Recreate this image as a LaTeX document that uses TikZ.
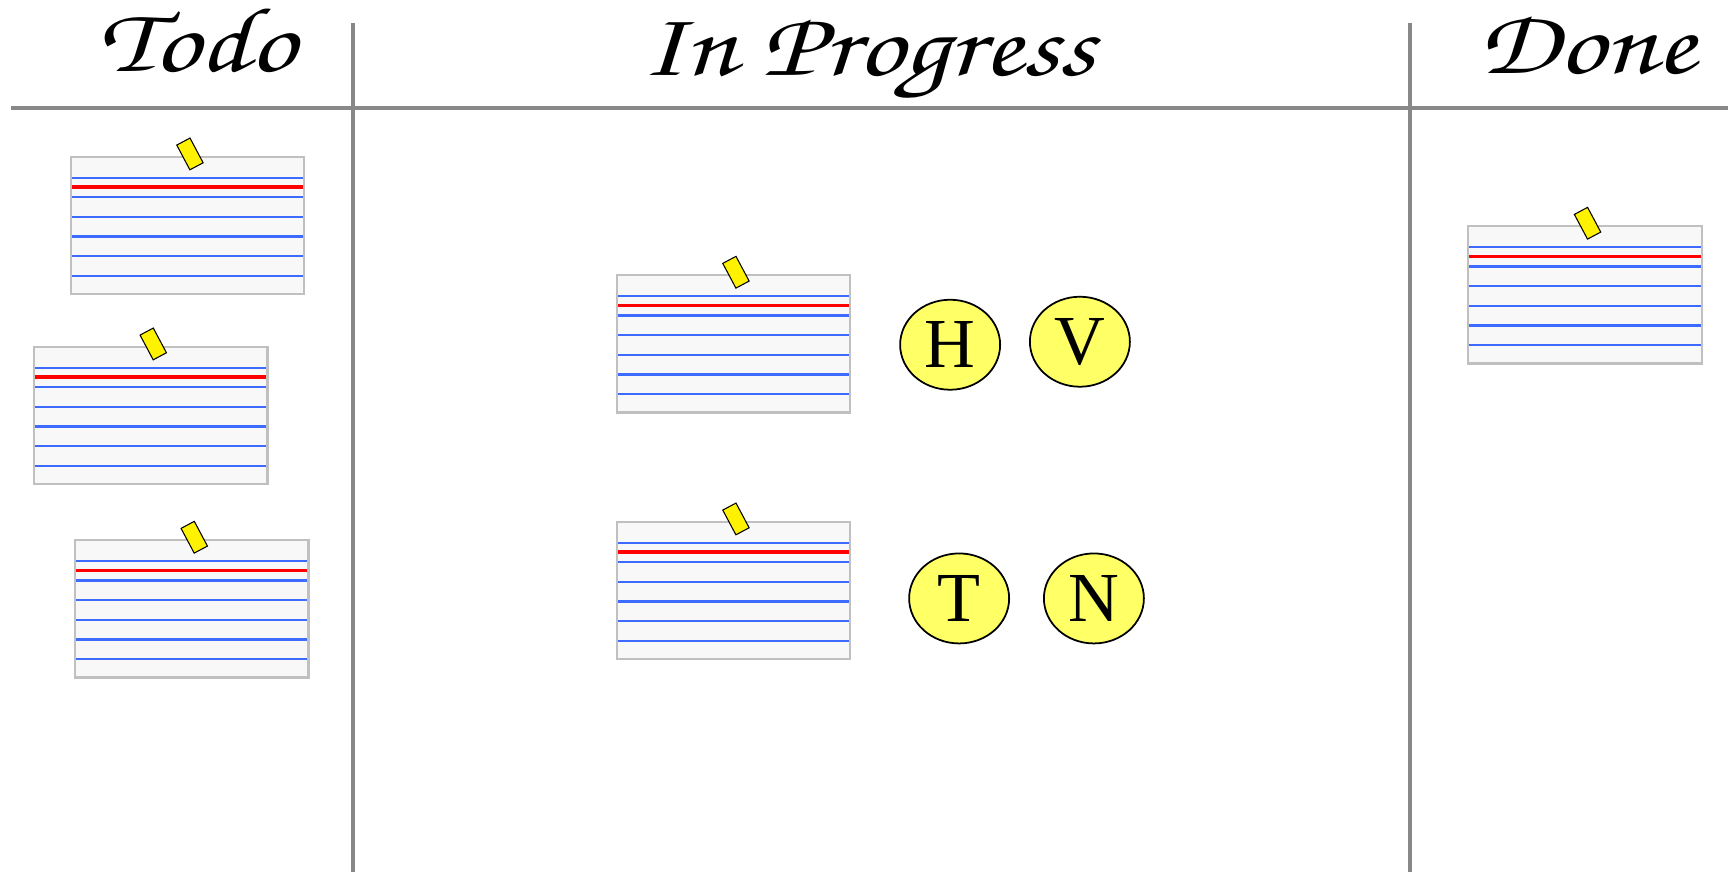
\documentclass[tikz,border=0pt]{standalone}
\usepackage[T1]{fontenc}
\usepackage{fontspec}
\usepackage{graphicx}
\setmainfont{Liberation Serif}
\usetikzlibrary{shapes.geometric, positioning}

\definecolor{cardfill}{HTML}{F8F8F8}
\definecolor{cardedge}{HTML}{C0C0C0}
\definecolor{ruleblue}{HTML}{3D6BFF}
\definecolor{pinyellow}{HTML}{FFFF66}
\definecolor{boardgray}{HTML}{888888}

% column titles, a little wider than the font draws them
\newcommand\colhead[1]{\scalebox{1.3}[1.05]{#1}}

\begin{document}
\begin{tikzpicture}[
    header/.style={anchor=base, font=\fontencoding{T1}\fontfamily{pzc}\fontseries{mb}\fontshape{it}\fontsize{25}{30}\selectfont},
    divider/.style={draw=boardgray, line width=1.1pt},
    card/.style={rectangle, draw=cardedge, line width=0.6pt, fill=cardfill, minimum width=2.335cm, minimum height=1.375cm, inner sep=0pt,
        path picture={
            \foreach \k in {0,...,5}
                \draw[ruleblue, line width=0.65pt] ([yshift={-2.1mm-\k*1.96mm}]path picture bounding box.north west) -- ([yshift={-2.1mm-\k*1.96mm}]path picture bounding box.north east);
            \draw[red, line width=0.9pt] ([yshift=-3.03mm]path picture bounding box.north west) -- ([yshift=-3.03mm]path picture bounding box.north east);
        }},
    tape/.style={rectangle, draw=black, line width=0.3pt, fill=yellow, minimum width=0.15cm, minimum height=0.28cm, inner sep=0pt, rotate=28},
    person/.style={ellipse, draw=black, line width=0.5pt, fill=pinyellow, minimum width=1cm, minimum height=0.9cm, inner sep=0pt, font=\fontsize{20}{20}\selectfont}
]
\useasboundingbox (0,0) rectangle (17.31,8.72);

% board
\coordinate (hleft) at (0.11,7.64);
\coordinate (hright) at (17.28,7.64);
\coordinate (v1top) at (3.53,8.49);
\coordinate (v1bot) at (3.53,0);
\coordinate (v2top) at (14.10,8.49);
\coordinate (v2bot) at (14.10,0);
\draw [divider] (hleft) -- (hright);
\draw [divider] (v1top) -- (v1bot);
\draw [divider] (v2top) -- (v2bot);

\node (todo) [header] at (1.97,8.00) {\colhead{Todo}};
\node (prog) [header] at (8.68,7.96) {\colhead{In Progress}};
\node (done) [header] at (15.87,7.98) {\colhead{Done}};

% cards
\node (todoA) [card] at (1.8745,6.4655) {};
\node (todoB) [card] at (1.5075,4.5655) {};
\node (todoC) [card] at (1.9175,2.6325) {};
\node (progA) [card] at (7.3345,5.2825) {};
\node (progB) [card] at (7.3345,2.8155) {};
\node (doneA) [card] at (15.8505,5.7725) {};

\foreach \c in {todoA,todoB,todoC,progA,progB,doneA}
    \node (tape-\c) [tape] at ([xshift=0.025cm, yshift=0.017cm]\c.north) {};

% people
\node (pH) [person, right=0.48cm of progA, yshift=-0.01cm] {H};
\node (pV) [person, right=0.28cm of pH, yshift=0.03cm] {V};
\node (pT) [person, right=0.57cm of progB, yshift=-0.08cm] {T};
\node (pN) [person, right=0.33cm of pT] {N};

\end{tikzpicture}
\end{document}
